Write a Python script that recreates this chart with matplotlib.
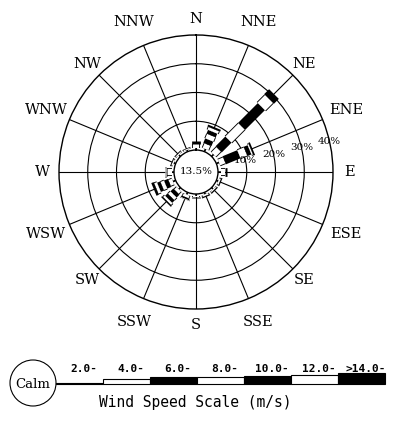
import matplotlib
matplotlib.use("Agg")
import matplotlib.pyplot as plt
import matplotlib.patheffects as pe
from matplotlib.patches import Circle
import numpy as np

# --- Wind rose data (percent of observations) ---
directions = ['N', 'NNE', 'NE', 'ENE', 'E', 'ESE', 'SE', 'SSE',
              'S', 'SSW', 'SW', 'WSW', 'W', 'WNW', 'NW', 'NNW']
calm_pct = 13.5

speed_labels = ['2.0-', '4.0-', '6.0-', '8.0-', '10.0-', '12.0-', '>14.0-']
#            N    NNE  NE   ENE  E    ESE  SE   SSE  S    SSW  SW   WSW  W    WNW  NW   NNW
spd_2_4   = [0.6, 1.0, 1.0, 1.0, 1.0, 0.7, 0.7, 0.7, 0.7, 0.8, 0.8, 1.0, 0.8, 0.7, 0.7, 0.6]
spd_4_6   = [1.6, 1.7, 2.5, 2.0, 1.3, 0.6, 0.5, 0.6, 0.5, 1.0, 1.2, 1.3, 1.5, 0.5, 0.5, 0.4]
spd_6_8   = [0.8, 1.7, 4.8, 5.5, 0.7, 0.4, 0.4, 0.4, 0.3, 0.6, 1.4, 1.5, 0.6, 0.3, 0.3, 0.2]
spd_8_10  = [0.3, 1.7, 6.5, 2.5, 0.3, 0.0, 0.0, 0.0, 0.0, 0.2, 1.2, 1.3, 0.3, 0.0, 0.0, 0.0]
spd_10_12 = [0.0, 1.4, 9.7, 1.5, 0.0, 0.0, 0.0, 0.0, 0.0, 0.0, 1.2, 1.2, 0.0, 0.0, 0.0, 0.0]
spd_12_14 = [0.0, 1.0, 3.8, 0.5, 0.0, 0.0, 0.0, 0.0, 0.0, 0.0, 0.8, 1.0, 0.0, 0.0, 0.0, 0.0]
spd_14up  = [0.0, 0.7, 2.4, 0.6, 0.0, 0.0, 0.0, 0.0, 0.0, 0.0, 0.5, 0.9, 0.0, 0.0, 0.0, 0.0]

classes = [spd_2_4, spd_4_6, spd_6_8, spd_8_10, spd_10_12, spd_12_14, spd_14up]
ring_pcts = [10, 20, 30, 40]

# bar style per speed class: thickness (px) and fill
class_px = [1.5, 5, 7, 7, 8, 9, 11]
class_fill = ['black', 'white', 'black', 'white', 'black', 'white', 'black']
rose_scale = 1.25

W, H = 398, 425
fig = plt.figure(figsize=(W / 100, H / 100), dpi=100)

# --- Rose ---
cx, cy, R = 196, 172, 137
calm_px = 22
rmax = 40
rorig = -calm_px * rmax / (R - calm_px)

ax = fig.add_axes([(cx - R) / W, (H - cy - R) / H, 2 * R / W, 2 * R / H],
                  projection='polar')
ax.set_theta_zero_location('N')
ax.set_theta_direction(-1)
ax.set_ylim(0, rmax)
ax.set_rorigin(rorig)
ax.set_thetagrids(np.arange(0, 360, 22.5), labels=[])
ax.set_rgrids([10, 20, 30], labels=[])
ax.grid(True, color='black', lw=0.8)
for sp in ax.spines.values():
    sp.set_color('black')
    sp.set_linewidth(1.0)

theta = np.deg2rad(np.arange(16) * 22.5)
px2pt = 72 / 100
for i, th in enumerate(theta):
    r0 = 0.0
    for k, vals in enumerate(classes):
        v = vals[i]
        if v <= 0:
            continue
        lw = class_px[k] * px2pt * (rose_scale if k else 1)
        line, = ax.plot([th, th], [r0, r0 + v], color=class_fill[k], lw=lw,
                        solid_capstyle='butt', zorder=5)
        if class_fill[k] == 'white':
            line.set_path_effects([pe.Stroke(linewidth=lw + 1.3, foreground='black'),
                                   pe.Normal()])
        r0 += v

# compass labels; the in-between points sit a little further out
for i, (th, name) in enumerate(zip(theta, directions)):
    rl = 48.8 if i % 2 else 45.6
    ax.text(th, rl, name, ha='center', va='center', family='DejaVu Serif',
            fontsize=10.5, clip_on=False)

# ring labels
for p in ring_pcts:
    ax.text(np.deg2rad(77), p, f'{p}%', ha='center', va='center',
            family='DejaVu Serif', fontsize=7.5, zorder=6)

ax.text(0, rorig, f'{calm_pct}%', ha='center', va='center',
        family='DejaVu Serif', fontsize=7.5)

# --- Speed scale legend ---
lg = fig.add_axes([0, 0, 1, 1])
lg.set_xlim(0, W)
lg.set_ylim(H, 0)
lg.axis('off')

lg.add_patch(Circle((33, 383), 23, fill=False, ec='black', lw=0.8))
lg.text(33, 384, 'Calm', ha='center', va='center', family='DejaVu Serif', fontsize=9.5)

seg_w = 47
lefts = 56 + seg_w * np.arange(len(speed_labels))
base = 384
lg.bar(lefts, [-h for h in class_px], width=seg_w, bottom=base, align='edge',
       color=class_fill, edgecolor='black', linewidth=0.8)
for x, lab in zip(lefts, speed_labels):
    lg.text(x + seg_w / 2 + 4, 369, lab, ha='center', va='center',
            family='DejaVu Sans Mono', fontweight='bold', fontsize=8)

lg.text(195, 403, 'Wind Speed Scale (m/s)', ha='center', va='center',
        family='DejaVu Sans Mono', fontsize=10.5)

fig.savefig('out.png', dpi=100)
